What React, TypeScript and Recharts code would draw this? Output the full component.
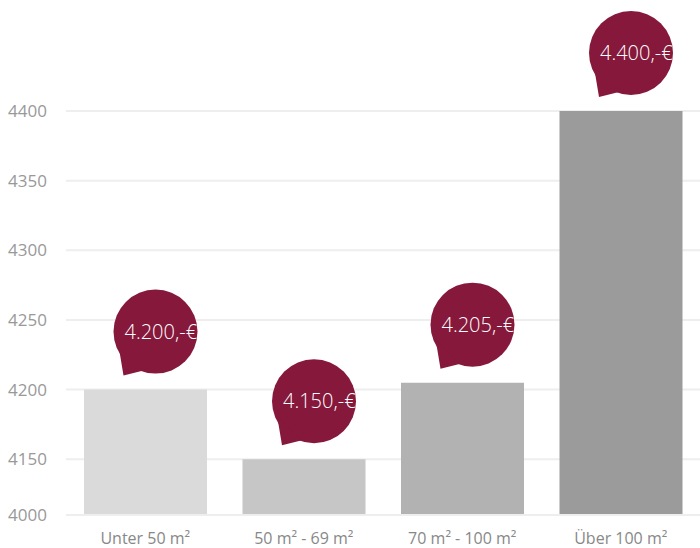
import { BarChart, Bar, XAxis, YAxis, CartesianGrid, Cell, LabelList } from "recharts";

const CATEGORIES = ["Unter 50 m²", "50 m² - 69 m²", "70 m² - 100 m²", "Über 100 m²"];
const PRICES = [4200, 4150, 4205, 4400];
const BAR_COLORS = ["#dadada", "#c6c6c6", "#b2b2b2", "#9b9b9b"];
const Y_TICKS = [4110, 4150, 4200, 4250, 4300, 4350, 4400];
const Y_TICK_LABELS = ["4000", "4150", "4200", "4250", "4300", "4350", "4400"];

const BUBBLE = "#85183b";
const FONT = "'Open Sans', sans-serif";

const data = CATEGORIES.map((name, i) => ({ name, price: PRICES[i] }));

function formatPrice(v: number): string {
  const s = String(v);
  return `${s.slice(0, s.length - 3)}.${s.slice(-3)},-€`;
}

function Bubble(props: any) {
  const { x, y, width, value } = props;
  const cx = Number(x) + Number(width) / 2 + 10;
  const cy = Number(y) - 58;
  const r = 42;
  const id = `clip-${value}`;
  return (
    <g>
      <defs>
        <clipPath id={id}>
          <circle cx={cx} cy={cy} r={r} />
        </clipPath>
      </defs>
      <circle cx={cx} cy={cy} r={r} fill={BUBBLE} />
      <path
        d={`M ${cx - 37} ${cy + 14} L ${cx - 32} ${cy + 44} L ${cx - 12} ${cy + 39} Z`}
        fill={BUBBLE}
      />
      <text
        x={cx - 31}
        y={cy + 7}
        fill="#fff"
        fontSize={20}
        fontWeight={300}
        fontFamily={FONT}
        clipPath={`url(#${id})`}
      >
        {formatPrice(Number(value))}
      </text>
    </g>
  );
}

export default function App() {
  return (
    <div style={{ position: "absolute", left: 0, top: 0, width: 700, height: 548, background: "#fff" }}>
      <BarChart
        width={700}
        height={548}
        data={data}
        margin={{ top: 111, right: 0, bottom: 0, left: 0 }}
      >
        <CartesianGrid vertical={false} stroke="#eeeeee" strokeWidth={2} />
        <XAxis
          dataKey="name"
          height={33}
          tickLine={false}
          axisLine={{ stroke: "#eeeeee", strokeWidth: 2 }}
          tickMargin={12}
          tick={{ fill: "#888888", fontSize: 16, fontFamily: FONT }}
        />
        <YAxis
          width={66}
          domain={[4110, 4400]}
          ticks={Y_TICKS}
          interval={0}
          tickLine={false}
          axisLine={false}
          tickMargin={13}
          tickFormatter={(v: number) => Y_TICK_LABELS[Y_TICKS.indexOf(v)] ?? String(v)}
          tick={{ fill: "#999999", fontSize: 17, fontFamily: FONT }}
        />
        <Bar dataKey="price" barSize={123} isAnimationActive={false}>
          {data.map((_, i) => (
            <Cell key={i} fill={BAR_COLORS[i]} />
          ))}
          <LabelList dataKey="price" content={Bubble} />
        </Bar>
      </BarChart>
    </div>
  );
}
